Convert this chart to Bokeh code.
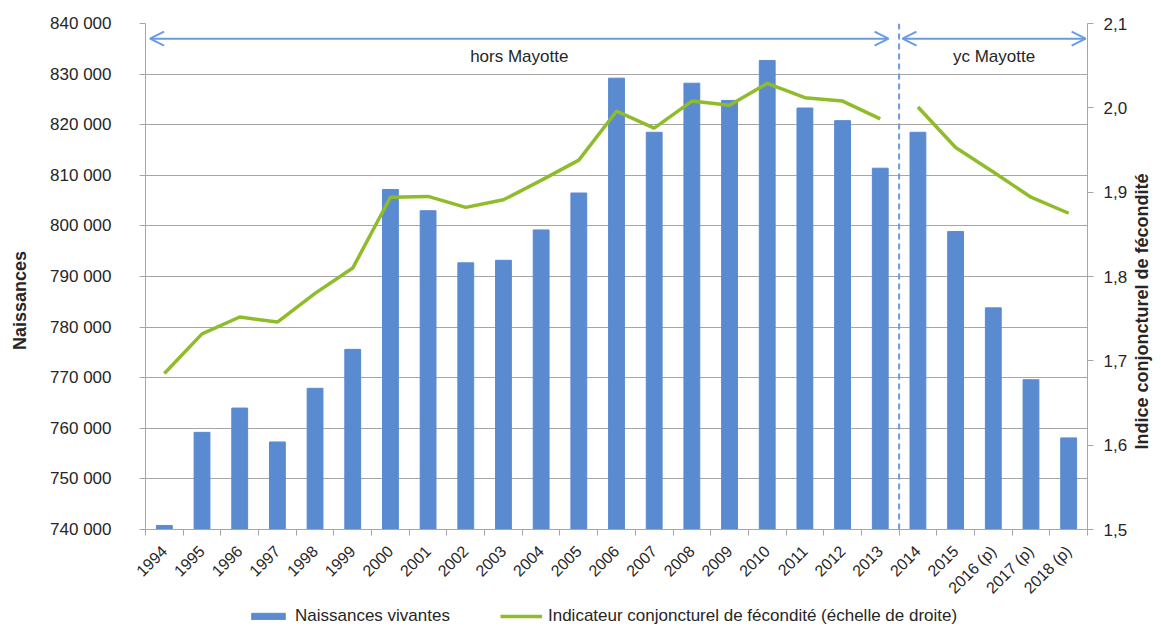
import numpy as np
from bokeh.plotting import figure
from bokeh.layouts import row, column
from bokeh.models import (Range1d, LinearAxis, FixedTicker, CustomJSTickFormatter, Span,
                          Arrow, OpenHead, Label, Legend, LegendItem, ColumnDataSource)
from bokeh.embed import file_html
from bokeh.resources import INLINE

years = ["1994", "1995", "1996", "1997", "1998", "1999", "2000", "2001", "2002", "2003",
         "2004", "2005", "2006", "2007", "2008", "2009", "2010", "2011", "2012", "2013",
         "2014", "2015", "2016 (p)", "2017 (p)", "2018 (p)"]
naissances = [740800, 759200, 764000, 757300, 767900, 775600, 807200, 803000, 792700, 793200,
              799200, 806500, 829200, 818500, 828200, 824800, 832700, 823300, 820800, 811400,
              818500, 798900, 783800, 769600, 758100]
icf = [1.685, 1.732, 1.752, 1.746, 1.780, 1.810, 1.894, 1.895, 1.882, 1.891,
       1.914, 1.938, 1.996, 1.976, 2.008, 2.003, 2.029, 2.012, 2.008, 1.987,
       2.001, 1.953, 1.924, 1.894, 1.875]
left_ticks = [740000, 750000, 760000, 770000, 780000, 790000, 800000, 810000, 820000, 830000, 840000]
right_ticks = [1.5, 1.6, 1.7, 1.8, 1.9, 2.0, 2.1]
split_year = "2014"
left_title = "Naissances"
right_title = "Indice conjoncturel de fécondité"
region_labels = ["hors Mayotte", "yc Mayotte"]
legend_labels = ["Naissances vivantes", "Indicateur conjoncturel de fécondité (échelle de droite)"]

FONT = "Liberation Sans"
TXT = "#262626"
GRID = "#a6a6a6"
BLUE = "#5a8ad0"
GREEN = "#8fbc2a"
ARROW = "#6a9be0"

H_MAIN = 605
H_LEG = 626 - H_MAIN
W_L = 32
W_R = 30
W_MAIN = 1161 - W_L - W_R
FRAME_TOP = 23
FRAME_BOTTOM = 529

n = len(years)
xs = np.arange(n) + 0.5
split = years.index(split_year)

src = ColumnDataSource(dict(x=xs, births=naissances, icf=icf))
src_a = ColumnDataSource(dict(x=xs[:split], icf=icf[:split]))
src_b = ColumnDataSource(dict(x=xs[split:], icf=icf[split:]))

p = figure(width=W_MAIN, height=H_MAIN, x_range=Range1d(0, n),
           y_range=Range1d(left_ticks[0], left_ticks[-1]),
           output_backend="svg", toolbar_location=None,
           min_border_left=145 - W_L, min_border_right=W_L + W_MAIN - 1087,
           min_border_top=FRAME_TOP, min_border_bottom=H_MAIN - FRAME_BOTTOM)
p.outline_line_color = None
p.xgrid.visible = False
p.ygrid.grid_line_color = GRID
p.ygrid.grid_line_width = 1

bars = p.vbar(x="x", top="births", bottom=left_ticks[0], width=0.42, source=src,
              fill_color=BLUE, line_color=BLUE)

p.extra_y_ranges = {"icf": Range1d(right_ticks[0], right_ticks[-1])}
l1 = p.line(x="x", y="icf", source=src_a, y_range_name="icf", line_color=GREEN, line_width=3.5)
l2 = p.line(x="x", y="icf", source=src_b, y_range_name="icf", line_color=GREEN, line_width=3.5)

# left axis
ya = p.yaxis[0]
ya.ticker = FixedTicker(ticks=left_ticks)
ya.formatter = CustomJSTickFormatter(code="""
const s = Math.round(tick).toString();
return s.replace(/\\B(?=(\\d{3})+(?!\\d))/g, ' ');
""")
ya.major_label_text_font = FONT
ya.major_label_text_font_size = "17px"
ya.major_label_text_color = TXT
ya.axis_line_color = GRID
ya.major_tick_line_color = GRID
ya.major_tick_out = 6
ya.major_tick_in = 0
ya.minor_tick_out = 0
ya.minor_tick_in = 0
ya.major_label_standoff = 28

# x axis
xa = p.xaxis[0]
xa.ticker = FixedTicker(ticks=list(xs), minor_ticks=list(range(n + 1)))
xa.major_label_overrides = {float(x): y for x, y in zip(xs, years)}
xa.major_label_orientation = np.pi / 4
xa.major_label_text_font = FONT
xa.major_label_text_font_size = "16px"
xa.major_label_text_color = TXT
xa.axis_line_color = GRID
xa.major_tick_out = 0
xa.major_tick_in = 0
xa.minor_tick_out = 6
xa.minor_tick_in = 0
xa.minor_tick_line_color = GRID
xa.major_label_standoff = 13

# right axis
ra = LinearAxis(y_range_name="icf", ticker=FixedTicker(ticks=right_ticks),
                formatter=CustomJSTickFormatter(code="return tick.toFixed(1).replace('.', ',');"))
ra.major_label_text_font = FONT
ra.major_label_text_font_size = "17px"
ra.major_label_text_color = TXT
ra.axis_line_color = GRID
ra.major_tick_line_color = GRID
ra.major_tick_out = 6
ra.major_tick_in = 0
ra.minor_tick_out = 0
ra.minor_tick_in = 0
ra.major_label_standoff = 10
p.add_layout(ra, "right")

# separator and arrows
p.add_layout(Span(location=float(split), dimension="height", line_color=ARROW,
                  line_dash="6 4", line_width=2))
y_arrow = 837000
spans = [(0.12, split - 0.28), (split + 0.09, n - 0.05)]
for (xs0, xs1), txt in zip(spans, region_labels):
    p.add_layout(Arrow(start=OpenHead(size=14, line_color=ARROW, line_width=2),
                       end=OpenHead(size=14, line_color=ARROW, line_width=2),
                       x_start=xs0, x_end=xs1, y_start=y_arrow, y_end=y_arrow,
                       line_color=ARROW, line_width=2))
    p.add_layout(Label(x=(xs0 + xs1) / 2, y=833500, text=txt,
                       text_align="center", text_baseline="middle", text_font=FONT,
                       text_font_size="17px", text_color=TXT))


def title_fig(width, cx, cy, text):
    # strip whose frame spans the main frame's height; y counted in pixels from the top
    f = figure(width=width, height=H_MAIN, x_range=Range1d(0, width),
               y_range=Range1d(FRAME_BOTTOM, FRAME_TOP),
               output_backend="svg", toolbar_location=None,
               x_axis_location=None, y_axis_location=None,
               min_border_left=0, min_border_right=0,
               min_border_top=FRAME_TOP, min_border_bottom=H_MAIN - FRAME_BOTTOM)
    f.outline_line_color = None
    f.grid.visible = False
    f.add_layout(Label(x=cx, y=cy, text=text, angle=np.pi / 2, text_align="center",
                       text_baseline="middle", text_font=FONT, text_font_size="18px",
                       text_font_style="bold", text_color=TXT))
    return f


tl = title_fig(W_L, 19, 300, left_title)
tr = title_fig(W_R, 1141 - (1161 - W_R), 311, right_title)

# legend strip (its renderers reuse the data but lie outside its ranges)
lf = figure(width=1161, height=H_LEG, x_range=Range1d(-2, -1), y_range=Range1d(0, 1),
            output_backend="svg", toolbar_location=None, x_axis_location=None,
            y_axis_location=None, min_border=0)
lf.outline_line_color = None
lf.grid.visible = False
gb = lf.vbar(x="x", top="births", bottom=left_ticks[0], width=0.42, source=src,
             fill_color=BLUE, line_color=BLUE)
gl = lf.line(x="x", y="icf", source=src, line_color=GREEN, line_width=3.5)
legend = Legend(items=[LegendItem(label=legend_labels[0], renderers=[gb]),
                       LegendItem(label=legend_labels[1], renderers=[gl])],
                orientation="horizontal", location=(247, 0), border_line_color=None,
                background_fill_alpha=0, label_text_font=FONT, label_text_font_size="17px",
                label_text_color=TXT, glyph_width=42, glyph_height=8, spacing=50,
                label_standoff=6, padding=0, margin=0)
lf.add_layout(legend, "center")

layout = column(row(tl, p, tr), lf)
open("out.html", "w").write(file_html(layout, INLINE))
